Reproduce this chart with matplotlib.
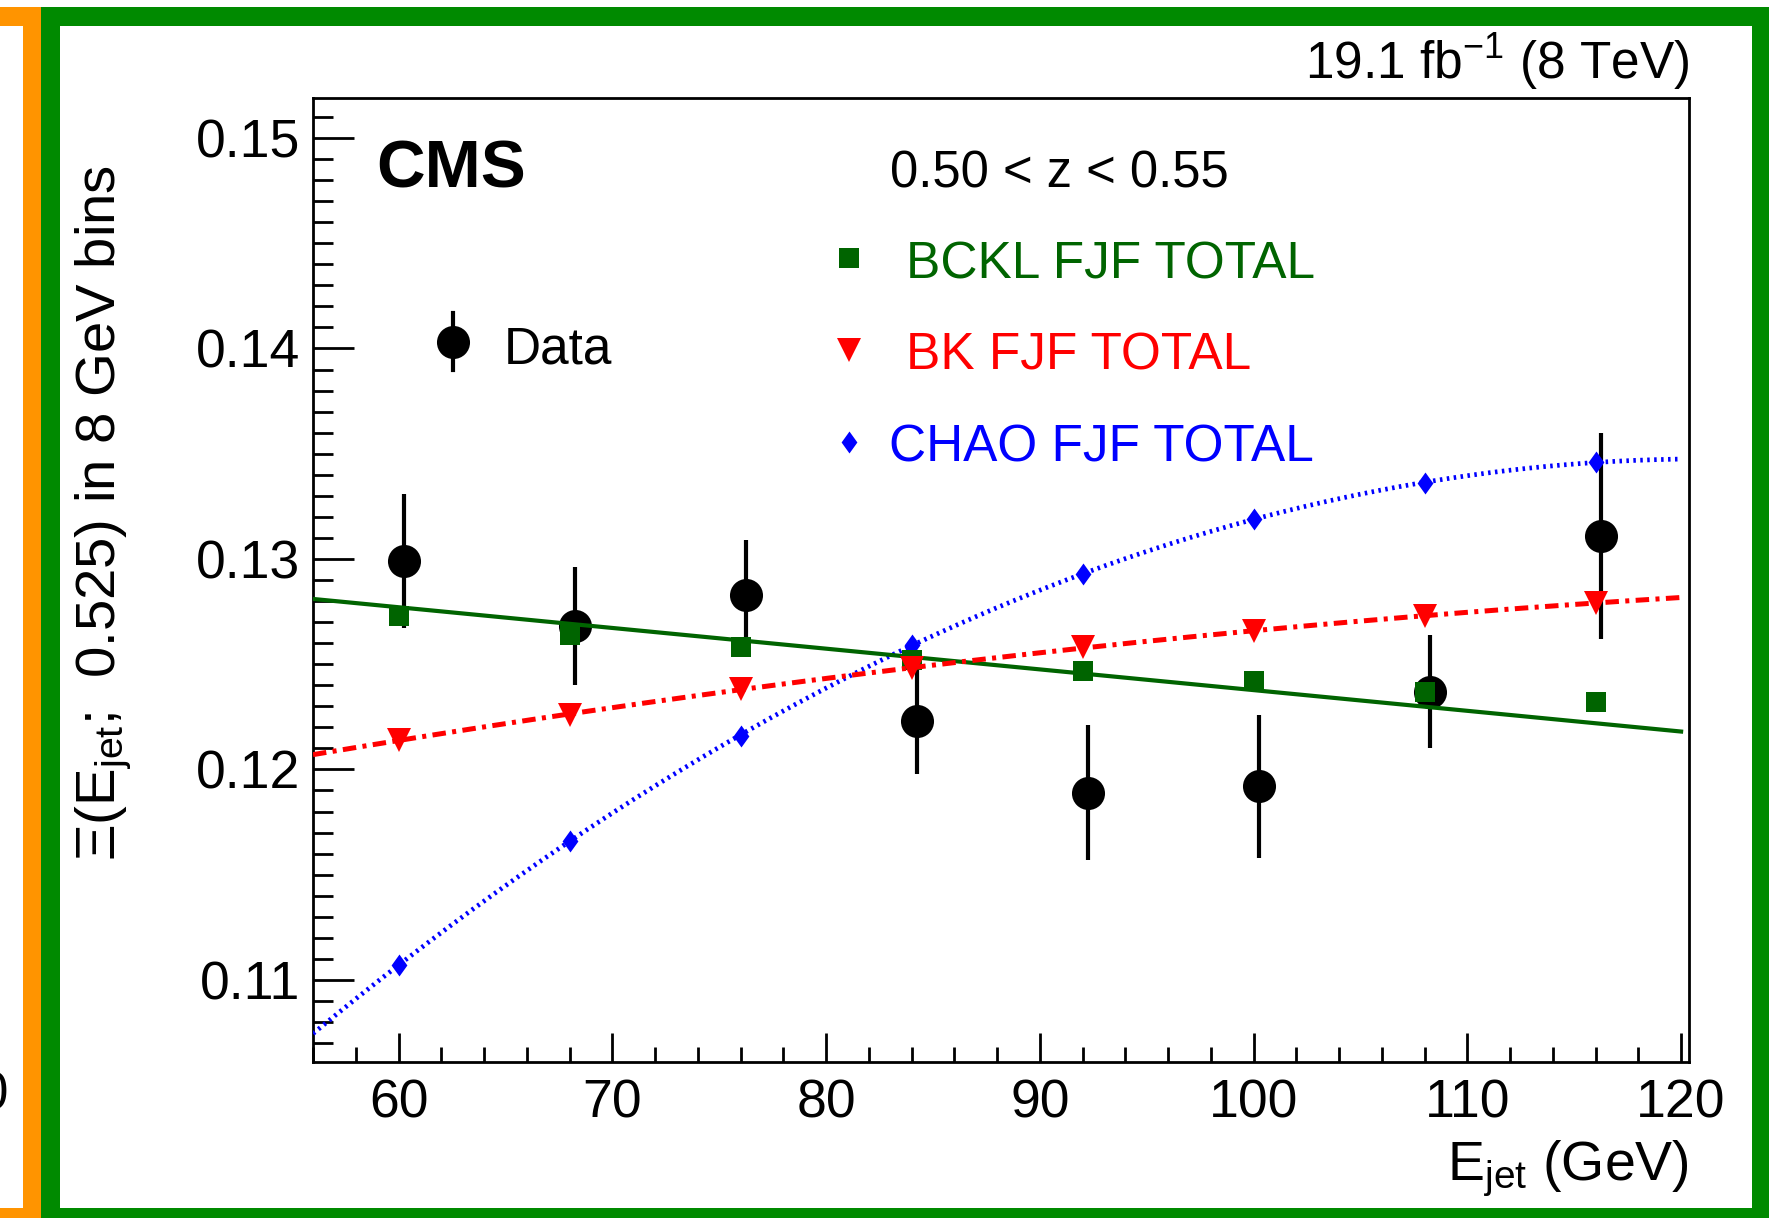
import numpy as np
import matplotlib
matplotlib.use("Agg")
import matplotlib.pyplot as plt
from matplotlib.patches import Rectangle
from matplotlib.ticker import MultipleLocator, FormatStrFormatter

plt.rcParams['font.family'] = ['Liberation Sans', 'DejaVu Sans']
plt.rcParams['mathtext.fontset'] = 'custom'
plt.rcParams['mathtext.rm'] = 'Liberation Sans'
plt.rcParams['mathtext.it'] = 'Liberation Sans'
plt.rcParams['mathtext.bf'] = 'Liberation Sans:bold'
plt.rcParams['lines.scale_dashes'] = False

# Xi(E_jet; 0.525) in 8 GeV bins, 0.50 < z < 0.55
e_bins = [60, 68, 76, 84, 92, 100, 108, 116]
data_x = [60.25, 68.25, 76.25, 84.25, 92.25, 100.25, 108.25, 116.25]
data_y = [0.1299, 0.1268, 0.1283, 0.1223, 0.1189, 0.1192, 0.1237, 0.1311]
data_err = [0.0032, 0.0028, 0.0026, 0.0025, 0.0032, 0.0034, 0.0027, 0.0049]

bckl = [0.1273, 0.1264, 0.1258, 0.1252, 0.1247, 0.1242, 0.1237, 0.1232]
bk = [0.1214, 0.1226, 0.1238, 0.1248, 0.1258, 0.1266, 0.1273, 0.1279]
chao = [0.1107, 0.1166, 0.1216, 0.1259, 0.1293, 0.1319, 0.1336, 0.1346]

# BCKL curve is a straight line over the full range
bckl_line_x = [56, 120]
bckl_line_y = [0.1281, 0.1218]

W, H = 1769, 1218
fig = plt.figure(figsize=(W / 100, H / 100), dpi=100)


def box(x0, y0, x1, y1, color):
    # pixel box (top-left origin) -> figure rectangle
    fig.add_artist(Rectangle((x0 / W, 1 - y1 / H), (x1 - x0) / W, (y1 - y0) / H,
                             transform=fig.transFigure, color=color, lw=0, zorder=10))


def ftext(x, y, s, **kw):
    return fig.text(x / W, 1 - y / H, s, **kw)


orange = '#ff9400'
green_frame = '#008a00'
box(0, 7, 41, 26, orange)
box(23, 7, 41, H, orange)
box(0, 1208, 41, H, orange)
box(41, 7, W, 26, green_frame)
box(41, 7, 60, H, green_frame)
box(1752, 7, W, H, green_frame)
box(41, 1208, W, H, green_frame)

ax = fig.add_axes([313 / W, 1 - 1062 / H, 1376 / W, 964 / H])
ax.set_xlim(56, 120.37)
ax.set_ylim(0.1061, 0.1519)

c_green = '#006400'
c_red = '#ff0000'
c_blue = '#0000ff'
diamond = [(0, 1), (0.72, 0), (0, -1), (-0.72, 0), (0, 1)]

xs = np.linspace(56, 120, 300)
chao_fit = np.polyval(np.polyfit(e_bins, chao, 3), xs)
bk_fit = np.polyval(np.polyfit(e_bins, bk, 2), xs)

ax.errorbar(data_x, data_y, yerr=data_err, fmt='o', color='black', ms=23.8, mew=0,
            elinewidth=3.0, capsize=3.0, capthick=3.2, zorder=3)

ax.plot(xs, chao_fit, color=c_blue, lw=3.4, dashes=(1.8, 3.2), zorder=4)
ax.plot(e_bins, chao, ls='none', marker=diamond, ms=15.8, mew=0, color=c_blue, zorder=4)
ax.plot(bckl_line_x, bckl_line_y, color=c_green, lw=3.0, zorder=5)
ax.plot(e_bins, bckl, ls='none', marker='s', ms=15, mew=0, color=c_green, zorder=5)
ax.plot(xs, bk_fit, color=c_red, lw=3.6, dashes=(9.7, 4.6, 2.9, 4.6), zorder=6)
ax.plot(e_bins, bk, ls='none', marker='v', ms=17.3, mew=0, color=c_red, zorder=6)

# axis styling
for sp in ax.spines.values():
    sp.set_linewidth(2.0)
ax.xaxis.set_major_locator(MultipleLocator(10))
ax.xaxis.set_minor_locator(MultipleLocator(2))
ax.yaxis.set_major_locator(MultipleLocator(0.01))
ax.yaxis.set_minor_locator(MultipleLocator(0.001))
ax.yaxis.set_major_formatter(FormatStrFormatter('%.2f'))
ax.tick_params(which='both', direction='in', top=False, right=False, width=2.0,
               labelsize=38.5)
ax.tick_params(axis='x', which='major', length=21, pad=12)
ax.tick_params(axis='x', which='minor', length=10.8)
ax.tick_params(axis='y', which='major', length=29.5, pad=9)
ax.tick_params(axis='y', which='minor', length=14.4)

# legend block drawn by hand
tr = ax.transAxes


def axpt(px, py):
    return (px - 313) / 1376, (1062 - py) / 964


lx, ly = axpt(453, 342)
_, ly0 = axpt(453, 313)
_, ly1 = axpt(453, 370)
ax.plot([lx, lx], [ly0, ly1], color='black', lw=3.0, transform=tr, clip_on=False)
ax.plot(lx, ly, 'o', color='black', ms=23.8, mew=0, transform=tr, clip_on=False)
ax.plot(*axpt(849, 258), marker='s', ms=15, mew=0, color=c_green, transform=tr)
ax.plot(*axpt(848.5, 350), marker='v', ms=17.3, mew=0, color=c_red, transform=tr)
ax.plot(*axpt(849, 442), marker=diamond, ms=15.8, mew=0, color=c_blue, transform=tr)

ftext(504, 363, 'Data', fontsize=37, va='baseline')
ftext(906, 278, 'BCKL FJF TOTAL', fontsize=37, va='baseline', color=c_green)
ftext(906, 370, 'BK FJF TOTAL', fontsize=37, va='baseline', color=c_red)
ftext(889, 462, 'CHAO FJF TOTAL', fontsize=37, va='baseline', color=c_blue)
ftext(890, 188, '0.50 < z < 0.55', fontsize=36.5, va='baseline')
ftext(376, 188, 'CMS', fontsize=48.5, fontweight='bold', va='baseline')
ftext(1689, 79, r'19.1 fb$^{-1}$ (8 TeV)', fontsize=37, ha='right', va='baseline')

ftext(1689, 1180, r'$\mathrm{E}_{\mathrm{jet}}$ (GeV)', fontsize=40, ha='right', va='baseline')
ftext(115, 165, r'Ξ($\mathrm{E}_{\mathrm{jet}}$;  0.525) in 8 GeV bins', fontsize=40.5,
      rotation=90, rotation_mode='anchor', ha='right', va='baseline')

# neighbouring panel's last x label, cut at the edge
ftext(9, 1110, '120', fontsize=38.5, ha='right', va='baseline')

fig.savefig('out.png', dpi=100)
